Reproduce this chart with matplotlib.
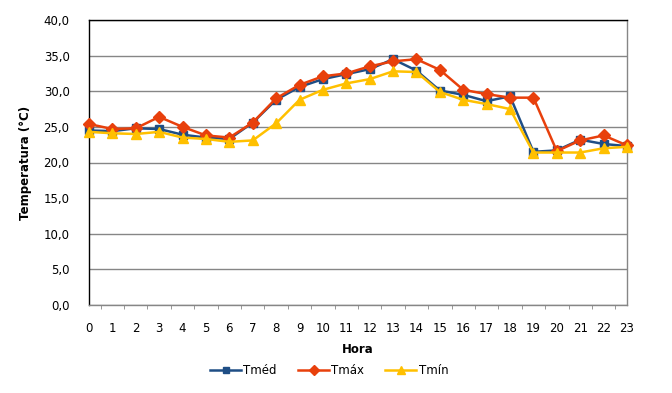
"""
Temperatura horária: Tméd, Tmáx, Tmín
"""

import matplotlib.pyplot as plt
import numpy as np

hours = list(range(24))
t_med = [24.5, 24.4, 24.8, 24.7, 23.9, 23.5, 23.3, 25.6, 28.8, 30.6, 31.7, 32.4,
         33.1, 34.5, 32.9, 30.1, 29.5, 28.6, 29.3, 21.5, 21.7, 23.2, 22.6, 22.3]
t_max = [25.4, 24.7, 24.8, 26.4, 25.0, 23.8, 23.5, 25.6, 29.0, 30.9, 32.1, 32.5,
         33.5, 34.2, 34.5, 33.0, 30.2, 29.6, 29.1, 29.1, 21.6, 23.1, 23.8, 22.4]
t_min = [24.3, 24.1, 24.0, 24.3, 23.5, 23.3, 22.9, 23.1, 25.5, 28.8, 30.2, 31.1,
         31.7, 32.8, 32.7, 29.9, 28.8, 28.2, 27.5, 21.4, 21.4, 21.4, 22.0, 22.2]
y_ticks = np.arange(0, 41, 5)

plt.rcParams["font.family"] = ["DejaVu Sans"]

fig = plt.figure(figsize=(6.72, 3.93), dpi=100)
ax = fig.add_axes([89 / 672, 88 / 393, 538 / 672, 285 / 393])

ax.plot(hours, t_med, color="#1F4E85", lw=1.8, marker="s", ms=6,
        label="Tméd", clip_on=False, zorder=3)
ax.plot(hours, t_max, color="#E8400C", lw=1.8, marker="D", ms=6,
        label="Tmáx", clip_on=False, zorder=4)
ax.plot(hours, t_min, color="#FFC000", lw=1.8, marker="^", ms=7,
        label="Tmín", clip_on=False, zorder=5)

ax.set_xlim(0, 23)
ax.set_ylim(0, 40)
ax.set_xticks(hours)
ax.set_xticks(np.arange(0, 23.01, 0.5), minor=True)
ax.set_yticks(y_ticks)
ax.set_yticklabels([f"{v:.1f}".replace(".", ",") for v in y_ticks])
ax.tick_params(axis="x", which="major", length=0, pad=12, labelsize=8.5)
ax.tick_params(axis="x", which="minor", length=3, color="#868686")
ax.tick_params(axis="y", length=0, pad=14, labelsize=8.5)

ax.grid(axis="y", color="#868686", lw=1)
ax.set_axisbelow(True)
for side in ["left", "top"]:
    ax.spines[side].set_color("black")
for side in ["right", "bottom"]:
    ax.spines[side].set_color("#868686")
for sp in ax.spines.values():
    sp.set_linewidth(1)

ax.set_xlabel("Hora", fontsize=8.5, fontweight="bold", labelpad=6)
ax.set_ylabel("Temperatura (°C)", fontsize=8.5, fontweight="bold", labelpad=8)

fig.legend(loc="center", bbox_to_anchor=(0.49, 1 - 371 / 393), ncol=3,
           frameon=False, fontsize=8.5, handlelength=2.6, columnspacing=1.8,
           handletextpad=0.2, markerscale=0.8)

fig.savefig("out.png", dpi=100)
plt.close(fig)
